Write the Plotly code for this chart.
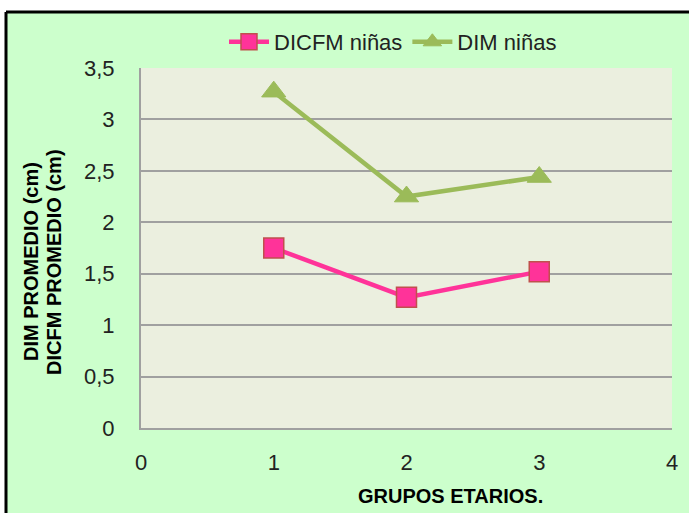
import plotly.graph_objects as go

grupos = [1, 2, 3]
dicfm_ninas = [1.75, 1.27, 1.52]
dim_ninas = [3.27, 2.25, 2.44]
y_ticks = [0, 0.5, 1, 1.5, 2, 2.5, 3, 3.5]
x_ticks = [0, 1, 2, 3, 4]

W, H = 689, 513
L, R, T, B = 141, 17, 68, 85
pw, ph = W - L - R, H - T - B

FONT = "Liberation Sans Narrow, Arial Narrow, Liberation Sans, Arial"


def px_x(p):
    return (p - L) / pw


def px_y(p):
    return (H - B - p) / ph


fig = go.Figure()
fig.add_trace(go.Scatter(
    x=grupos, y=dicfm_ninas, name="DICFM niñas", mode="lines+markers",
    line=dict(color="#FF3399", width=4.5),
    marker=dict(symbol="square", size=20, color="#FF3399",
                line=dict(color="#C0504D", width=1.5)),
))
fig.add_trace(go.Scatter(
    x=grupos, y=dim_ninas, name="DIM niñas", mode="lines+markers",
    line=dict(color="#9BBB59", width=4.5),
    marker=dict(symbol="triangle-up", size=21, color="#9BBB59",
                line=dict(color="#9BBB59", width=1)),
))

# outer green frame (fill + top/left black borders) and plot-area background
fig.add_shape(type="rect", xref="paper", yref="paper",
              x0=px_x(6), x1=px_x(W),
              y0=px_y(H), y1=px_y(12),
              fillcolor="#CCFFCC", line=dict(width=0), layer="below")
fig.add_shape(type="line", xref="paper", yref="paper",
              x0=px_x(6), x1=px_x(W), y0=px_y(12), y1=px_y(12),
              line=dict(color="black", width=3), layer="below")
fig.add_shape(type="line", xref="paper", yref="paper",
              x0=px_x(6), x1=px_x(6), y0=px_y(12), y1=px_y(H),
              line=dict(color="black", width=3), layer="below")
fig.add_shape(type="rect", xref="paper", yref="paper", x0=0, x1=1, y0=0, y1=1,
              fillcolor="#EBEFDF", line=dict(width=0), layer="below")

for txt, xc in [("DIM PROMEDIO (cm)", 31), ("DICFM PROMEDIO (cm)", 54)]:
    fig.add_annotation(
        text="<b>" + txt + "</b>",
        xref="paper", yref="paper", x=px_x(xc), y=px_y(262),
        textangle=-90, showarrow=False, font=dict(family=FONT, size=20, color="black"),
        xanchor="center", yanchor="middle",
    )
fig.add_annotation(
    text="<b>GRUPOS ETARIOS.</b>",
    xref="paper", yref="paper", x=px_x(450), y=px_y(496),
    showarrow=False, font=dict(family=FONT, size=20, color="black"),
    xanchor="center", yanchor="middle",
)

fig.update_layout(
    width=W, height=H,
    margin=dict(l=L, r=R, t=T, b=B, pad=0),
    paper_bgcolor="white",
    plot_bgcolor="rgba(0,0,0,0)",
    separators=",.",
    font=dict(family=FONT, size=22, color="#222222"),
    showlegend=True,
    legend=dict(orientation="h", x=px_x(393), y=px_y(42),
                xanchor="center", yanchor="middle", bgcolor="rgba(0,0,0,0)",
                font=dict(family=FONT, size=22, color="#222222"),
                itemwidth=40, tracegroupgap=0),
    xaxis=dict(range=[0, 4], tickvals=x_ticks, showgrid=False, zeroline=False,
               showline=True, linecolor="#A0A0A0", linewidth=2,
               ticks="", ticklabelstandoff=14, tickfont=dict(size=22)),
    yaxis=dict(range=[0, 3.5], tickvals=y_ticks, showgrid=True,
               gridcolor="#A0A0A0", gridwidth=2, zeroline=False,
               showline=True, linecolor="#A0A0A0", linewidth=2,
               ticks="", ticklabelstandoff=20, tickfont=dict(size=22)),
)

fig.write_html("out.html",
               config={"displayModeBar": False, "staticPlot": True},
               post_script="document.body.style.margin='0';document.body.style.overflow='hidden';")
